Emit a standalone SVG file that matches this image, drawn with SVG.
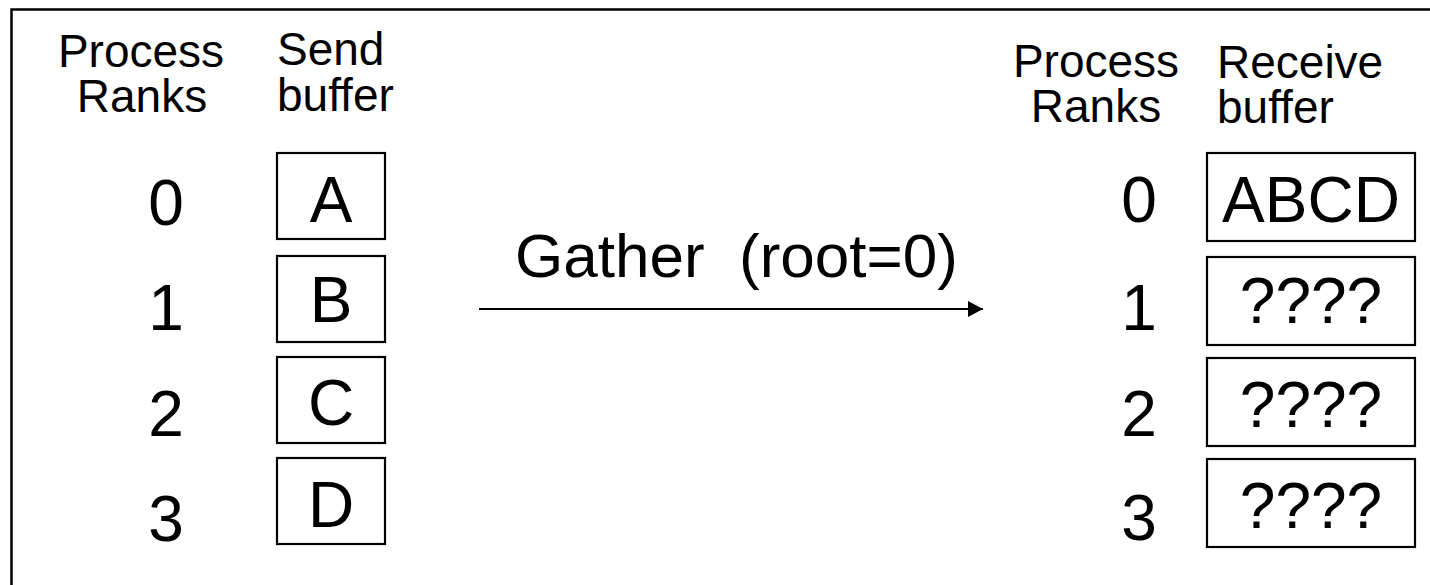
<svg xmlns="http://www.w3.org/2000/svg" width="1430" height="585" viewBox="0 0 1430 585">
  <style>
    text { font-family: "Liberation Sans", Arial, sans-serif; fill: #000; }
    .hdr { font-size: 46px; }
    .mid { text-anchor: middle; }
    .big { font-size: 64px; }
    .box { fill: #fff; stroke: #000; stroke-width: 2.2; }
    .conn { stroke: #000; stroke-width: 2.2; fill: none; }
  </style>
  <defs>
    <marker id="arr" markerUnits="userSpaceOnUse" markerWidth="16" markerHeight="17" refX="15" refY="8" orient="auto">
      <path d="M0,0 L15,8 L0,16 Z" fill="#000"/>
    </marker>
  </defs>
  <rect width="1430" height="585" fill="#fff"/>
  <path d="M11.5,585 V9.5 H1430" fill="none" stroke="#000" stroke-width="2.5"/>

  <g id="headers">
    <text class="hdr mid" x="141" y="67">Process</text>
    <text class="hdr mid" x="142" y="112">Ranks</text>
    <text class="hdr" x="277" y="65">Send</text>
    <text class="hdr" x="277" y="111">buffer</text>
    <text class="hdr mid" x="1096" y="77">Process</text>
    <text class="hdr mid" x="1096" y="122">Ranks</text>
    <text class="hdr" x="1217" y="78">Receive</text>
    <text class="hdr" x="1217" y="123">buffer</text>
  </g>

  <g id="ranks-left">
    <text class="big mid" x="166" y="225">0</text>
    <text class="big mid" x="166" y="330">1</text>
    <text class="big mid" x="166" y="436">2</text>
    <text class="big mid" x="166" y="541">3</text>
  </g>
  <g id="ranks-right">
    <text class="big mid" x="1139" y="222">0</text>
    <text class="big mid" x="1139" y="330">1</text>
    <text class="big mid" x="1139" y="436">2</text>
    <text class="big mid" x="1139" y="540">3</text>
  </g>

  <g id="send-0"><rect class="box" x="277" y="153" width="108" height="86"/><text class="big mid" x="331" y="222">A</text></g>
  <g id="send-1"><rect class="box" x="277" y="256" width="108" height="86"/><text class="big mid" x="331" y="322">B</text></g>
  <g id="send-2"><rect class="box" x="277" y="357" width="108" height="86"/><text class="big mid" x="331" y="425">C</text></g>
  <g id="send-3"><rect class="box" x="277" y="458" width="108" height="86"/><text class="big mid" x="331" y="527">D</text></g>

  <g id="recv-0"><rect class="box" x="1207" y="153" width="208" height="88"/><text class="big mid" x="1311" y="222">ABCD</text></g>
  <g id="recv-1"><rect class="box" x="1207" y="257" width="208" height="88"/><text class="big mid" x="1311" y="323">????</text></g>
  <g id="recv-2"><rect class="box" x="1207" y="358" width="208" height="88"/><text class="big mid" x="1311" y="427">????</text></g>
  <g id="recv-3"><rect class="box" x="1207" y="459" width="208" height="88"/><text class="big mid" x="1311" y="528">????</text></g>

  <g id="connectors">
    <line class="conn" x1="479" y1="309" x2="983" y2="309" marker-end="url(#arr)"/>
    <text x="515" y="277" font-size="62" xml:space="preserve">Gather  (root=0)</text>
  </g>
</svg>
